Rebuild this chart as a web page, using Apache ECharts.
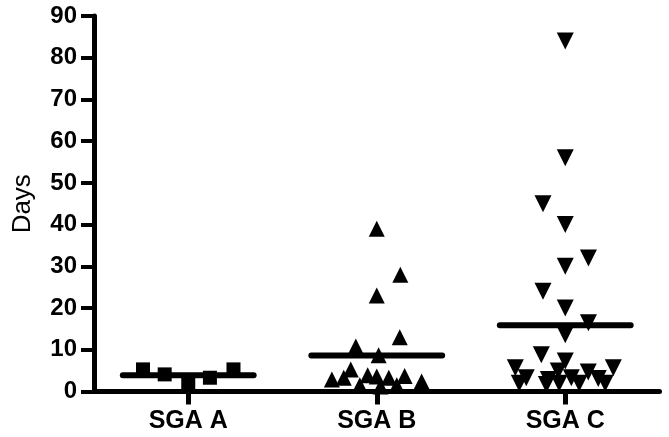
<!DOCTYPE html>
<html>
<head>
<meta charset="utf-8">
<script src="https://cdn.jsdelivr.net/npm/echarts@6/dist/echarts.min.js"></script>
<style>
html,body{margin:0;padding:0;background:#fff;}
#chart{width:669px;height:437px;}
</style>
</head>
<body>
<div id="chart"></div>
<script>
// ---- Data ----
const categories = ['SGA A', 'SGA B', 'SGA C'];
const yMin = 0, yMax = 90, yStep = 10;
const yTitle = 'Days';

// SGA A: values (days) and horizontal jitter within the category (category units)
const sgaAValues = [5.3, 4.1, 2.1, 3.3, 5.3];
const sgaAJitter = [-0.24, -0.125, 0, 0.115, 0.24];

// SGA B
const sgaBValues = [39, 28, 23, 13, 10.8, 8.7, 5.3, 3.9, 3.6, 3.3, 3.7, 2.4, 2.9, 3.3, 1.5, 1.5, 1.2];
const sgaBJitter = [0, 0.125, 0, 0.122, -0.111, 0.01, -0.138, -0.048, 0, 0.064, 0.148, 0.238, -0.238, -0.175, -0.09, 0.106, 0.02];

// SGA C
const sgaCValues = [84, 56, 45, 40, 32, 30, 24, 20, 16.5, 13.6, 8.8, 5.7, 7.3, 5.7, 4.7, 3.3, 2, 2.9, 4.9, 3.3, 2, 3.1, 2, 1.7, 2];
const sgaCJitter = [0, 0, -0.118, 0, 0.123, 0, -0.118, 0, 0.123, 0, -0.127, -0.265, 0, 0.255, 0.122, -0.207, -0.244, -0.09, -0.037, 0.032, 0.074, 0.175, 0.212, -0.1, -0.032];

// Mean lines
const groupMeans = [3.9, 8.6, 15.9];

// ---- Styling ----
const FONT = 'Liberation Sans, Arial, sans-serif';
const lineHalfWidth = 0.347;

function pts(values, jitter, gi) {
  return values.map((v, i) => [gi + jitter[i], v]);
}

const groups = [
  { values: sgaAValues, jitter: sgaAJitter, symbol: 'rect', size: [14, 14], rotate: 0 },
  { values: sgaBValues, jitter: sgaBJitter, symbol: 'triangle', size: [16, 16], rotate: 0 },
  { values: sgaCValues, jitter: sgaCJitter, symbol: 'triangle', size: [17, 17], rotate: 180 }
];

const series = [];
groups.forEach((g, gi) => {
  series.push({
    type: 'scatter',
    xAxisIndex: 1,
    yAxisIndex: 0,
    symbol: g.symbol,
    symbolSize: g.size,
    symbolRotate: g.rotate,
    itemStyle: { color: '#000', opacity: 1 },
    data: pts(g.values, g.jitter, gi),
    silent: true,
    z: 2
  });
});
groupMeans.forEach((m, gi) => {
  series.push({
    type: 'line',
    xAxisIndex: 1,
    yAxisIndex: 0,
    symbol: 'none',
    lineStyle: { color: '#000', width: 6, cap: 'round' },
    data: [[gi - lineHalfWidth, m], [gi + lineHalfWidth, m]],
    silent: true,
    z: 3
  });
});

const chart = echarts.init(document.getElementById('chart'), null, { renderer: 'canvas' });
chart.setOption({
  animation: false,
  backgroundColor: '#fff',
  grid: { left: 94, right: 9.5, top: 16, bottom: 45.5, containLabel: false, outerBoundsMode: 'none' },
  xAxis: [
    {
      type: 'category',
      data: categories,
      boundaryGap: true,
      axisLine: { show: true, onZero: false, lineStyle: { color: '#000', width: 5 } },
      axisTick: { show: true, alignWithLabel: true, length: 13, lineStyle: { color: '#000', width: 5 } },
      axisLabel: { color: '#000', fontSize: 25, fontWeight: 'bold', fontFamily: FONT, margin: 17 },
      splitLine: { show: false }
    },
    {
      type: 'value',
      min: -0.5,
      max: 2.5,
      show: false,
      splitLine: { show: false }
    }
  ],
  yAxis: [
    {
      type: 'value',
      min: yMin,
      max: yMax,
      interval: yStep,
      name: yTitle,
      nameLocation: 'middle',
      nameGap: 58,
      nameRotate: 90,
      nameTextStyle: { color: '#000', fontSize: 26, fontFamily: FONT, fontWeight: 'normal' },
      axisLine: { show: true, onZero: false, lineStyle: { color: '#000', width: 5 } },
      axisTick: { show: true, length: 13, lineStyle: { color: '#000', width: 4 } },
      axisLabel: { color: '#000', fontSize: 24, fontWeight: 'bold', fontFamily: FONT, margin: 17 },
      splitLine: { show: false }
    }
  ],
  series: series
});
</script>
</body>
</html>
